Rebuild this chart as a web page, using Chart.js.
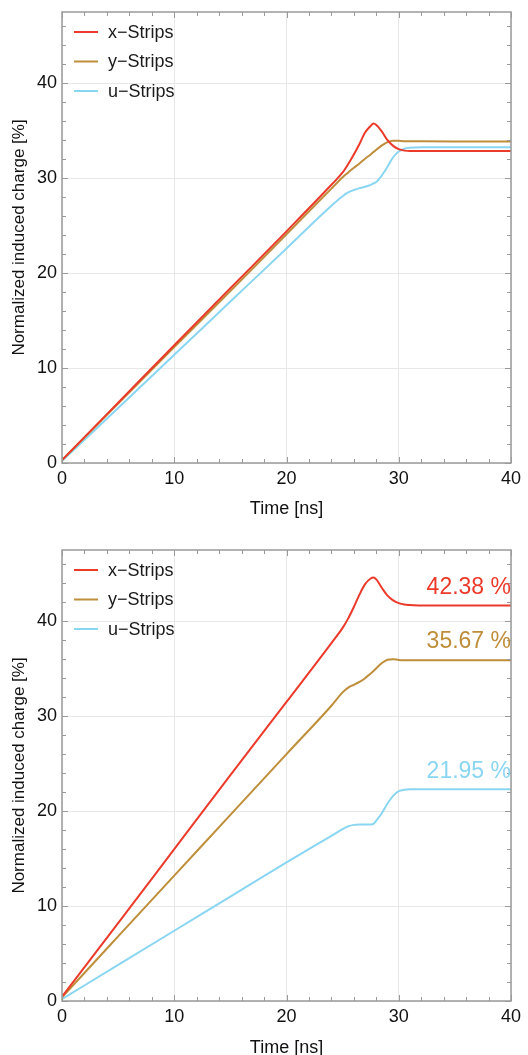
<!DOCTYPE html>
<html>
<head>
<meta charset="utf-8">
<script src="https://cdn.jsdelivr.net/npm/chart.js@4.4.1/dist/chart.umd.min.js"></script>
<style>
  html, body { margin: 0; padding: 0; background: #fff; }
  body { width: 528px; height: 1055px; position: relative; overflow: hidden; }
  canvas { position: absolute; left: 0; }
  #topChart { top: 0; }
  #bottomChart { top: 525px; }
</style>
</head>
<body>
<canvas id="topChart" width="528" height="525"></canvas>
<canvas id="bottomChart" width="528" height="530"></canvas>
<script>
// time samples (ns), shared by every series
const times = [0, 5, 10, 15, 20, 24, 25, 25.5, 26, 26.5, 27, 27.5, 27.75, 28, 28.5, 29, 29.5, 30, 30.5, 31, 32, 35, 40];

const seriesNames = ['x\u2212Strips', 'y\u2212Strips', 'u\u2212Strips'];
const seriesColors = ['rgb(236, 58, 42)', 'rgb(190, 142, 58)', 'rgb(138, 214, 242)'];

// upper panel
const topX = [0.3, 6.35, 12.4, 18.4, 24.4, 29.3, 30.6, 31.5, 32.5, 33.6, 34.8, 35.5, 35.75, 35.6, 34.9, 34.0, 33.4, 33.05, 32.9, 32.85, 32.85, 32.85, 32.85];
const topY = [0.3, 6.25, 12.2, 18.1, 24.1, 28.9, 30.1, 30.6, 31.1, 31.55, 32.05, 32.5, 32.75, 33.0, 33.45, 33.8, 33.95, 33.95, 33.9, 33.9, 33.88, 33.85, 33.85];
const topU = [0.2, 5.8, 11.4, 17.0, 22.6, 27.1, 28.1, 28.5, 28.75, 28.95, 29.1, 29.3, 29.45, 29.6, 30.3, 31.2, 32.2, 32.8, 33.1, 33.2, 33.25, 33.25, 33.25];

// lower panel
const bottomX = [0.45, 8.2, 16.0, 23.8, 31.5, 37.7, 39.3, 40.3, 41.5, 42.8, 43.9, 44.5, 44.6, 44.4, 43.5, 42.7, 42.2, 41.9, 41.75, 41.7, 41.65, 41.65, 41.65];
const bottomY = [0.4, 6.8, 13.2, 19.6, 26.0, 31.1, 32.5, 33.0, 33.3, 33.6, 34.0, 34.5, 34.75, 35.05, 35.6, 35.95, 36.0, 35.92, 35.9, 35.9, 35.9, 35.9, 35.9];
const bottomU = [0.2, 3.8, 7.4, 11.0, 14.6, 17.4, 18.1, 18.4, 18.55, 18.6, 18.6, 18.6, 18.65, 19.0, 19.8, 20.8, 21.6, 22.1, 22.25, 22.3, 22.3, 22.3, 22.3];
const bottomLabels = ['42.38 %', '35.67 %', '21.95 %'];

const xRange = [0, 40];
const yRange = [0, 47.5];
const minorStep = 2;

const FONT = '"Liberation Sans", Arial, Helvetica, sans-serif';

// frame with inward ticks, legend inside the plot, end-of-line labels
const decor = {
    id: 'decor',
    afterDatasetsDraw(chart, args, opts) {
        const { ctx, chartArea: a, scales: { x, y } } = chart;
        ctx.save();

        ctx.strokeStyle = '#9a9a9a';
        ctx.lineWidth = 1;
        ctx.beginPath();
        for (let v = xRange[0]; v <= xRange[1]; v += minorStep) {
            const px = Math.round(x.getPixelForValue(v)) + 0.5;
            const len = v % 10 === 0 ? 6 : 4;
            ctx.moveTo(px, a.bottom); ctx.lineTo(px, a.bottom - len);
            ctx.moveTo(px, a.top); ctx.lineTo(px, a.top + len);
        }
        for (let v = yRange[0]; v <= yRange[1]; v += minorStep) {
            const py = Math.round(y.getPixelForValue(v)) + 0.5;
            const len = v % 10 === 0 ? 6 : 4;
            ctx.moveTo(a.left, py); ctx.lineTo(a.left + len, py);
            ctx.moveTo(a.right, py); ctx.lineTo(a.right - len, py);
        }
        ctx.stroke();

        ctx.lineWidth = 1.5;
        ctx.strokeRect(a.left, a.top, a.right - a.left, a.bottom - a.top);

        // legend
        ctx.font = '18px ' + FONT;
        ctx.textBaseline = 'middle';
        ctx.textAlign = 'left';
        chart.data.datasets.forEach((ds, i) => {
            const ly = a.top + 20 + i * 29.5;
            ctx.strokeStyle = ds.borderColor;
            ctx.lineWidth = 2;
            ctx.beginPath();
            ctx.moveTo(a.left + 12, ly);
            ctx.lineTo(a.left + 36, ly);
            ctx.stroke();
            ctx.fillStyle = '#1a1a1a';
            ctx.fillText(ds.label, a.left + 46, ly + 1);
        });

        // final value labels
        if (opts.labels) {
            ctx.font = '23px ' + FONT;
            ctx.textAlign = 'right';
            chart.data.datasets.forEach((ds, i) => {
                const last = ds.data[ds.data.length - 1];
                ctx.fillStyle = ds.borderColor;
                ctx.fillText(opts.labels[i], a.right, y.getPixelForValue(last.y) - 18);
            });
        }
        ctx.restore();
    }
};

function toPoints(values) {
    return values.map((v, i) => ({ x: times[i], y: v }));
}

function makeChart(id, series, labels, padTop, xAxisHeight, titlePadBottom) {
    return new Chart(document.getElementById(id), {
        type: 'line',
        data: {
            datasets: series.map((vals, i) => ({
                label: seriesNames[i],
                data: toPoints(vals),
                borderColor: seriesColors[i],
                backgroundColor: seriesColors[i],
                borderWidth: 2,
                pointRadius: 0,
                cubicInterpolationMode: 'monotone',
                borderJoinStyle: 'round',
                borderCapStyle: 'round'
            }))
        },
        options: {
            responsive: false,
            animation: false,
            layout: { padding: { top: padTop, right: 17, bottom: 0, left: 0 } },
            plugins: {
                legend: { display: false },
                tooltip: { enabled: false },
                decor: { labels: labels }
            },
            scales: {
                x: {
                    type: 'linear',
                    min: xRange[0],
                    max: xRange[1],
                    grid: { color: '#e8e8e8', drawTicks: false },
                    border: { display: false },
                    ticks: {
                        stepSize: 10,
                        padding: 5,
                        color: '#111',
                        font: { family: FONT, size: 18 },
                        maxRotation: 0
                    },
                    title: {
                        display: true,
                        text: 'Time [ns]',
                        color: '#111',
                        font: { family: FONT, size: 18, lineHeight: 1 },
                        padding: { top: 0, bottom: titlePadBottom }
                    },
                    afterFit(scale) {
                        scale.height = xAxisHeight;
                        scale.paddingLeft = 0;
                        scale.paddingRight = 0;
                    }
                },
                y: {
                    min: yRange[0],
                    max: yRange[1],
                    grid: { color: '#e8e8e8', drawTicks: false },
                    border: { display: false },
                    ticks: {
                        stepSize: 10,
                        includeBounds: false,
                        padding: 5,
                        color: '#111',
                        font: { family: FONT, size: 18 }
                    },
                    title: {
                        display: true,
                        text: 'Normalized induced charge [%]',
                        color: '#111',
                        font: { family: FONT, size: 17, lineHeight: 1 },
                        padding: { top: 11, bottom: 0 }
                    },
                    afterFit(scale) {
                        scale.width = 62;
                        scale.paddingTop = 0;
                        scale.paddingBottom = 0;
                    }
                }
            }
        },
        plugins: [decor]
    });
}

makeChart('topChart', [topX, topY, topU], null, 12, 62, 7);
makeChart('bottomChart', [bottomX, bottomY, bottomU], bottomLabels, 25, 54, -2);
</script>
</body>
</html>
